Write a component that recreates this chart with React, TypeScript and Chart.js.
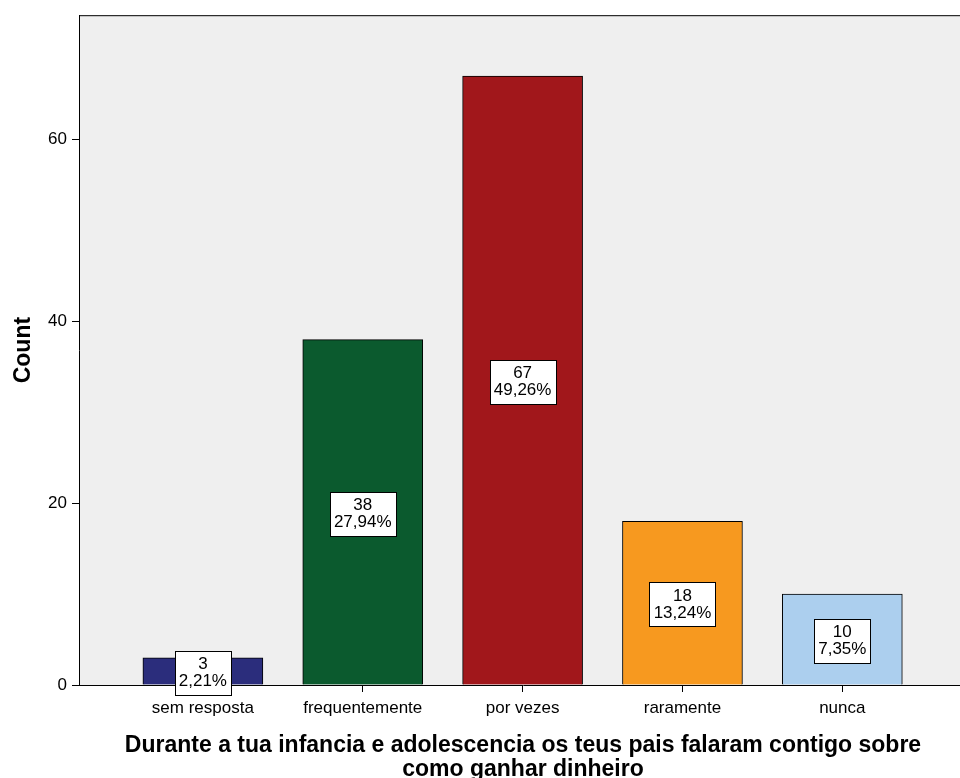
import React, { useEffect, useRef } from "react";
import { Chart, registerables } from "chart.js";

Chart.register(...registerables);

const categories = ["sem resposta", "frequentemente", "por vezes", "raramente", "nunca"];
const counts = [3, 38, 67, 18, 10];
const barColors = ["#2b2d7c", "#0b5a2e", "#a1171b", "#f7991f", "#accfee"];
const yTicks = [0, 20, 40, 60];
const xTitle = [
  "Durante a tua infancia e adolescencia os teus pais falaram contigo sobre",
  "como ganhar dinheiro",
];
const yTitle = "Count";

const FONT = "'Liberation Sans', Arial, sans-serif";

const framePlugin = {
  id: "frame",
  beforeDraw(chart: any) {
    const { ctx, chartArea } = chart;
    ctx.save();
    ctx.fillStyle = "#efefef";
    ctx.fillRect(chartArea.left, chartArea.top, chartArea.right - chartArea.left, chartArea.bottom - chartArea.top);
    ctx.restore();
  },
  afterDraw(chart: any) {
    const { ctx, chartArea } = chart;
    ctx.save();
    ctx.strokeStyle = "#000";
    ctx.lineWidth = 1;
    ctx.beginPath();
    ctx.moveTo(chartArea.left, chartArea.top + 0.5);
    ctx.lineTo(chartArea.right, chartArea.top + 0.5);
    ctx.stroke();
    ctx.restore();
  },
};

const labelPlugin = {
  id: "barLabels",
  afterDatasetsDraw(chart: any) {
    const { ctx } = chart;
    const meta = chart.getDatasetMeta(0);
    const data = chart.data.datasets[0].data as any[];
    const total = data.reduce((s: number, d: any) => s + d.y, 0);
    ctx.save();
    ctx.font = `17px ${FONT}`;
    meta.data.forEach((bar: any, i: number) => {
      const v = data[i].y;
      const l1 = String(v);
      const l2 = ((v / total) * 100).toFixed(2).replace(".", ",") + "%";
      const w = Math.round(Math.max(ctx.measureText(l1).width, ctx.measureText(l2).width) + 8);
      const h = 44;
      const cx = bar.x;
      const cy = (bar.y + bar.base) / 2 + 1.5;
      const x0 = Math.round(cx - w / 2) + 0.5;
      const y0 = Math.round(cy - h / 2) + 0.5;
      ctx.fillStyle = "#fff";
      ctx.fillRect(x0, y0, w, h);
      ctx.strokeStyle = "#000";
      ctx.lineWidth = 1;
      ctx.strokeRect(x0, y0, w, h);
      ctx.fillStyle = "#000";
      ctx.textAlign = "center";
      ctx.textBaseline = "middle";
      ctx.fillText(l1, cx, cy - 8);
      ctx.fillText(l2, cx, cy + 9);
    });
    ctx.restore();
  },
};

export default function App() {
  const ref = useRef<HTMLCanvasElement | null>(null);
  useEffect(() => {
    if (!ref.current) return;
    Chart.defaults.font.family = FONT;
    const chart = new Chart(ref.current, {
      type: "bar",
      data: {
        datasets: [
          {
            data: categories.map((_, i) => ({ x: i, y: counts[i] })),
            backgroundColor: barColors,
            borderColor: "#000",
            borderWidth: 1,
            barThickness: 120,
          } as any,
        ],
      },
      options: {
        animation: false,
        responsive: false,
        layout: { padding: { top: 14, right: 13, left: 0, bottom: 0 } },
        plugins: { legend: { display: false }, tooltip: { enabled: false } },
        scales: {
          x: {
            type: "linear",
            offset: false,
            min: -0.775,
            max: 4.78,
            afterBuildTicks: (scale: any) => {
              scale.ticks = categories.map((_, i) => ({ value: i }));
            },
            afterFit: (scale: any) => {
              scale.height = 93;
            },
            grid: { offset: false, drawOnChartArea: false, drawTicks: true, tickLength: 7, color: "#000", lineWidth: 1 },
            border: { display: true, color: "#000", width: 1 },
            ticks: {
              autoSkip: false,
              maxRotation: 0,
              padding: 6,
              color: "#000",
              font: { size: 17, family: FONT },
              callback: (v: any) => categories[v] ?? "",
            },
            title: {
              display: true,
              text: xTitle,
              color: "#000",
              font: { size: 23, weight: "bold", family: FONT, lineHeight: 1.06 },
              padding: { top: 0, bottom: -4 },
            },
          },
          y: {
            type: "linear",
            min: 0,
            max: 73.7,
            afterBuildTicks: (scale: any) => {
              scale.ticks = yTicks.map((v) => ({ value: v }));
            },
            afterFit: (scale: any) => {
              scale.width = 79;
            },
            grid: { drawOnChartArea: false, drawTicks: true, tickLength: 7, color: "#000", lineWidth: 1 },
            border: { display: true, color: "#000", width: 1 },
            ticks: {
              padding: 5,
              color: "#000",
              font: { size: 17, family: FONT },
            },
            title: {
              display: true,
              text: yTitle,
              color: "#000",
              font: { size: 23, weight: "bold", family: FONT, lineHeight: 1.2 },
              padding: { top: 10, bottom: 0 },
            },
          },
        },
      } as any,
      plugins: [framePlugin, labelPlugin],
    });
    return () => chart.destroy();
  }, []);
  return (
    <div style={{ position: "absolute", left: 0, top: 0, width: 960, height: 778, overflow: "hidden", background: "#fff" }}>
      <canvas ref={ref} width={980} height={778} style={{ display: "block" }} />
    </div>
  );
}
